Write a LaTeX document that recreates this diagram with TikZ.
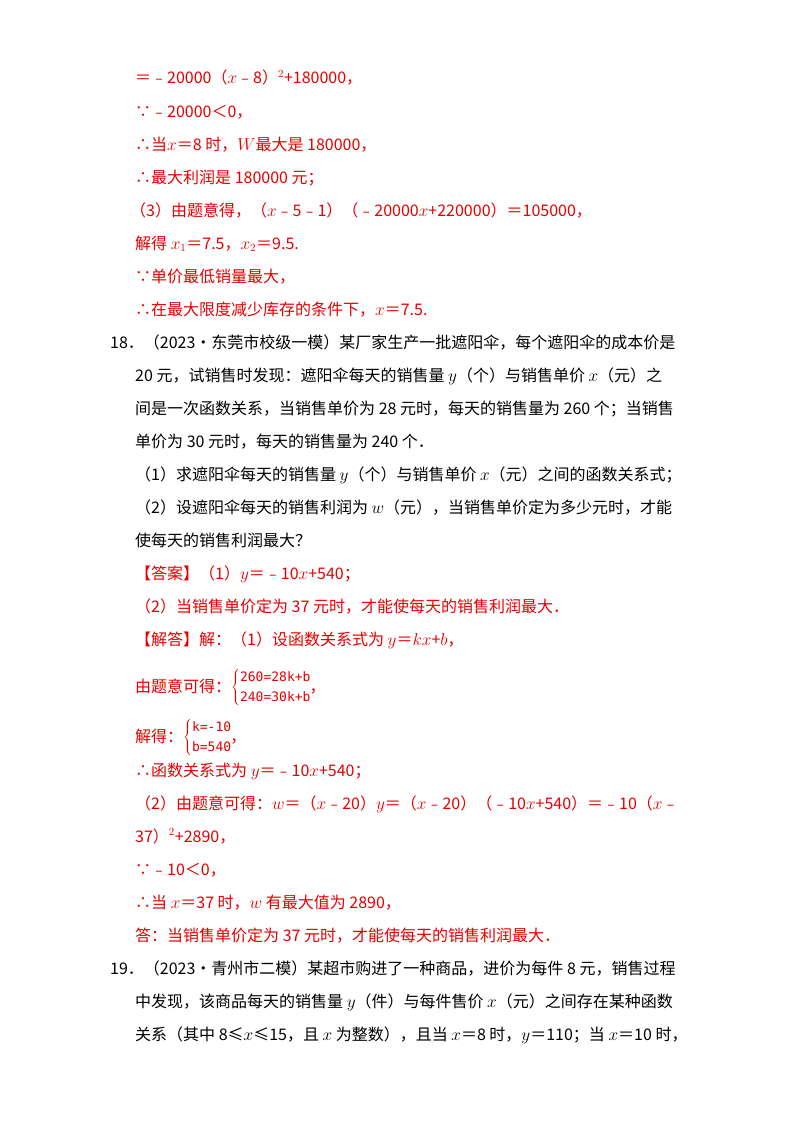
\documentclass[tikz,border=0pt]{standalone}
\usepackage{fontspec}
\setmainfont{Noto Sans CJK SC}
\setmonofont{DejaVu Sans Mono}
\definecolor{ans}{RGB}{230,0,0}
\begin{document}
\begin{tikzpicture}[x=1pt,y=-1pt,
  L/.style={anchor=base west,inner sep=0pt,font=\fontsize{16}{18}\selectfont},
  R/.style={L,text=ans}]
\useasboundingbox (0,0) rectangle (800,1132);
\node[R] (r1) at (135,84) {＝﹣20000（$x$﹣8）$^2$+180000，};
\node[R] (r2) at (135,117) {∵﹣20000＜0，};
\node[R] (r3) at (135,150) {∴当$x$＝8 时，$W$最大是 180000，};
\node[R] (r4) at (135,183) {∴最大利润是 180000 元；};
\node[R] (r5) at (130,216) {（3）由题意得，（$x$﹣5﹣1）（﹣20000$x$+220000）＝105000，};
\node[R] (r6) at (135,249) {解得 $x_1$＝7.5，$x_2$＝9.5.};
\node[R] (r7) at (135,282) {∵单价最低销量最大，};
\node[R] (r8) at (135,315) {∴在最大限度减少库存的条件下，$x$＝7.5.};
\node[L] (q1) at (110,348) {18．（2023•东莞市校级一模）某厂家生产一批遮阳伞，每个遮阳伞的成本价是};
\node[L] (q2) at (135,381) {20 元，试销售时发现：遮阳伞每天的销售量 $y$（个）与销售单价 $x$（元）之};
\node[L] (q3) at (135,414) {间是一次函数关系，当销售单价为 28 元时，每天的销售量为 260 个；当销售};
\node[L] (q4) at (135,447) {单价为 30 元时，每天的销售量为 240 个．};
\node[L] (q5) at (135,480) {（1）求遮阳伞每天的销售量 $y$（个）与销售单价 $x$（元）之间的函数关系式；};
\node[L] (q6) at (135,513) {（2）设遮阳伞每天的销售利润为 $w$（元），当销售单价定为多少元时，才能};
\node[L] (q7) at (135,546) {使每天的销售利润最大？};
\node[R] (a1) at (135,579) {【答案】（1）$y$＝﹣10$x$+540；};
\node[R] (a2) at (135,612) {（2）当销售单价定为 37 元时，才能使每天的销售利润最大．};
\node[R] (a3) at (135,645) {【解答】解：（1）设函数关系式为 $y$＝$kx$+$b$，};
\node[R] (a4) at (135,692) {由题意可得：$\left\{\begin{array}{@{}l@{}}\mbox{\ttfamily\fontsize{13}{15}\selectfont 260=28k+b}\\[2pt]\mbox{\ttfamily\fontsize{13}{15}\selectfont 240=30k+b}\end{array}\right.$\kern-2pt，};
\node[R] (a5) at (135,742) {解得：$\left\{\begin{array}{@{}l@{}}\mbox{\ttfamily\fontsize{13}{15}\selectfont k=-10}\\[2pt]\mbox{\ttfamily\fontsize{13}{15}\selectfont b=540}\end{array}\right.$\kern-2pt，};
\node[R] (a6) at (135,776) {∴函数关系式为 $y$＝﹣10$x$+540；};
\node[R] (a7) at (135,809) {（2）由题意可得：$w$＝（$x$﹣20）$y$＝（$x$﹣20）（﹣10$x$+540）＝﹣10（$x$﹣};
\node[R] (a8) at (135,842) {37）$^2$+2890，};
\node[R] (a9) at (135,875) {∵﹣10＜0，};
\node[R] (a10) at (135,908) {∴当 $x$＝37 时，$w$ 有最大值为 2890，};
\node[R] (a11) at (135,941) {答：当销售单价定为 37 元时，才能使每天的销售利润最大．};
\node[L] (p1) at (110,974) {19．（2023•青州市二模）某超市购进了一种商品，进价为每件 8 元，销售过程};
\node[L] (p2) at (135,1007) {中发现，该商品每天的销售量 $y$（件）与每件售价 $x$（元）之间存在某种函数};
\node[L] (p3) at (135,1040) {关系（其中 8≤$x$≤15，且 $x$ 为整数），且当 $x$＝8 时，$y$＝110；当 $x$＝10 时，};
\end{tikzpicture}
\end{document}
